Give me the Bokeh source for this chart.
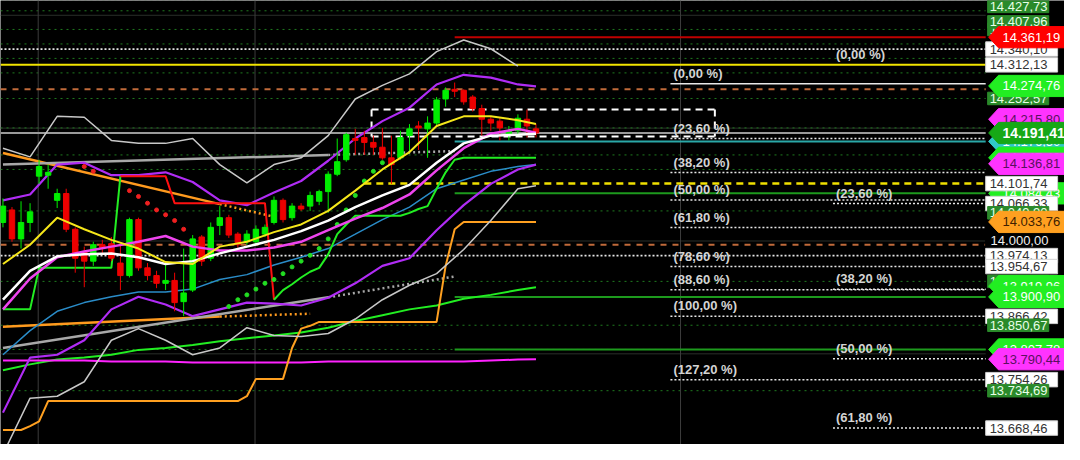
from bokeh.plotting import figure
from bokeh.models import Range1d
from bokeh.core.properties import value
from bokeh.embed import file_html
from bokeh.resources import INLINE

# ---------------- data ----------------
bars = list(range(60))
opens = [14032.8,14055.0,14003.7,14032.8,14114.9,14116.6,14072.1,14084.1,14020.8,13981.4,
         13964.3,13993.4,13995.1,13960.9,13938.7,14037.9,13952.4,13938.7,13925.0,13930.1,
         13892.5,13913.0,14007.1,13969.5,14027.6,14041.3,14012.2,13998.6,13998.6,14012.2,
         14032.8,14072.1,14041.3,14061.8,14061.8,14070.4,14087.5,14118.3,14144.0,14181.6,
         14183.3,14174.7,14166.2,14147.4,14147.4,14186.7,14203.8,14198.7,14209.0,14251.7,
         14268.8,14267.1,14255.1,14234.6,14215.8,14212.4,14190.1,14195.3,14215.8,14198.7]
highs = [14075.5,14060.1,14070.4,14067.0,14144.0,14135.4,14092.6,14092.6,14024.2,13990.0,
         13998.6,14002.0,14007.1,13993.4,14041.3,14041.3,13960.9,13947.2,13959.2,13943.8,
         13986.6,14010.5,14010.5,14032.8,14061.8,14046.4,14015.7,14019.1,14027.6,14029.3,
         14078.9,14075.5,14067.0,14067.0,14087.5,14090.9,14123.4,14181.6,14191.9,14198.7,
         14195.3,14186.7,14200.4,14186.7,14195.3,14207.2,14212.4,14220.9,14255.1,14272.2,
         14280.8,14268.8,14258.6,14241.5,14220.9,14217.5,14203.8,14224.4,14232.9,14207.2]
lows = [14024.2,13998.6,13986.6,14015.7,14101.2,14092.6,14058.4,14015.7,13943.8,13918.1,
        13955.8,13978.0,13964.3,13913.0,13935.3,13947.2,13930.1,13916.4,13913.0,13875.4,
        13866.8,13909.6,13955.8,13964.3,14010.5,14005.4,13988.3,13993.4,13993.4,14007.1,
        14029.3,14032.8,14036.2,14053.3,14053.3,14063.5,14049.9,14114.9,14140.5,14152.5,
        14152.5,14152.5,14144.0,14101.2,14144.0,14155.9,14161.1,14147.4,14203.8,14238.0,
        14255.1,14241.5,14229.5,14186.7,14195.3,14178.2,14178.2,14186.7,14183.3,14183.3]
closes = [14061.8,14003.7,14032.8,14051.6,14132.0,14121.7,14084.1,14020.8,13969.5,13964.3,
          13993.4,13986.6,13969.5,13938.7,14037.9,13952.4,13938.7,13925.0,13930.1,13890.8,
          13907.9,14003.7,13964.3,14024.2,14041.3,14010.5,13993.4,14012.2,14020.8,14024.2,
          14072.1,14037.9,14061.8,14056.7,14080.7,14087.5,14118.3,14140.5,14188.4,14178.2,
          14174.7,14166.2,14147.4,14135.4,14183.3,14198.7,14200.4,14209.0,14250.0,14267.1,
          14265.4,14246.6,14234.6,14215.8,14209.0,14200.4,14195.3,14217.5,14203.8,14191.4]

# indicator lines, read every 3 bars
idx = [0,3,6,9,12,15,18,21,24,27,30,33,36,39,42,45,48,51,54,57,59]
ma_yellow = [13959.2,13993.4,14041.3,14020.8,14002.0,13986.6,13962.6,13959.2,13990.0,13998.6,14015.7,
             14029.3,14053.3,14089.2,14126.8,14157.6,14203.8,14220.9,14220.9,14214.1,14207.2]
ma_white = [13895.9,13947.2,13972.9,13976.3,13978.0,13971.2,13959.2,13964.3,13978.0,13990.0,14002.0,
            14017.4,14036.2,14060.1,14080.7,14099.5,14138.8,14173.0,14186.7,14188.4,14190.1]
ma_magenta = [13878.8,13933.5,13971.2,13981.4,13990.0,13998.6,14008.8,13990.0,13983.2,13983.2,13988.3,
              13998.6,14019.1,14039.6,14058.4,14082.4,14125.1,14164.5,14190.1,14198.7,14191.8]
band_upper = [14072.1,14082.4,14135.4,14138.8,14116.6,14116.6,14121.7,14104.6,14072.1,14063.5,14085.8,
              14106.3,14142.2,14181.6,14212.4,14236.3,14277.4,14294.5,14289.4,14277.4,14274.0]
band_lower = [13695.8,13793.3,13798.4,13824.1,13878.8,13901.1,13887.4,13866.8,13878.8,13890.8,13889.1,
              13885.7,13899.3,13925.0,13955.8,13969.5,14019.1,14063.5,14101.2,14126.8,14135.4]
env_upper = [14164.5,14149.1,14220.9,14219.2,14178.2,14173.0,14173.0,14181.6,14135.4,14102.9,14135.4,
             14147.4,14186.7,14251.7,14275.7,14296.2,14335.5,14356.1,14340.7,14309.9]
env_lower = [13622.2,13721.4,13724.9,13750.5,13824.1,13844.6,13824.1,13798.4,13810.4,13846.3,13832.6,
             13830.9,13836.0,13861.7,13895.9,13921.6,13942.1,13984.9,14036.2,14092.6,14097.8]
ma_blue = [13798.4,13841.2,13875.4,13890.8,13901.1,13909.6,13909.6,13914.7,13931.8,13940.4,13957.5,
           13971.2,13986.6,14012.2,14037.9,14060.1,14092.6,14108.0,14123.4,14132.0,14135.4]
ma_long = [13771.0,13781.3,13789.9,13793.3,13798.4,13807.0,13810.4,13815.5,13822.4,13827.5,13832.6,
           13837.8,13846.3,13858.3,13868.5,13878.8,13885.7,13897.6,13904.5,13913.0,13918.2]
ma_flat = [13788.2,13788.2,13788.2,13788.2,13786.4,13786.4,13786.4,13784.7,13784.7,13784.7,13784.7,
           13784.7,13786.4,13786.4,13786.4,13786.4,13786.4,13786.4,13788.2,13789.9,13790.4]

# step indicators, one value per bar
orange_step = [13665.0,13665.0,13665.0,13671.8,13680.4,13716.3,13716.3,13716.3,13716.3,13716.3,
               13716.3,13716.3,13716.3,13716.3,13716.3,13716.3,13716.3,13716.3,13716.3,13716.3,
               13716.3,13716.3,13716.3,13716.3,13716.3,13716.3,13716.3,13724.9,13755.6,13755.6,
               13755.6,13755.6,13810.4,13844.6,13849.7,13856.6,13856.6,13856.6,13856.6,13856.6,
               13856.6,13856.6,13856.6,13856.6,13856.6,13856.6,13856.6,13856.6,13856.6,13955.8,
               14020.8,14033.8,14033.8,14033.8,14033.8,14033.8,14033.8,14033.8,14033.8,14033.8]
st_value = [13878.8,13878.8,13878.8,13878.8,13952.4,13952.4,13952.4,13952.4,13952.4,13952.4,
            13952.4,13952.4,13952.4,14114.9,14114.9,14114.9,14114.9,14114.9,14114.9,14067.0,
            14067.0,14067.0,14067.0,14067.0,14067.0,14067.0,14067.0,14067.0,14067.0,14067.0,
            13895.9,13913.0,13923.3,13935.3,13945.5,13952.4,13976.3,14012.2,14029.3,14044.7,
            14044.7,14044.7,14044.7,14044.7,14044.7,14049.9,14056.7,14061.8,14092.6,14121.7,
            14144.0,14147.4,14147.4,14147.4,14147.4,14147.4,14147.4,14147.4,14147.4,14147.4]
st_dir = [1,1,1,1,1,1,1,1,1,1,1,1,1,-1,-1,-1,-1,-1,-1,-1,
          -1,-1,-1,-1,-1,-1,-1,-1,-1,-1,1,1,1,1,1,1,1,1,1,1,
          1,1,1,1,1,1,1,1,1,1,1,1,1,1,1,1,1,1,1,1]

sar_red_x = [9,10,14,15,16,17,18,19,20]
sar_red_y = [14132.0,14123.4,14089.2,14078.9,14067.0,14055.0,14046.4,14036.2,14020.8]
sar_green_x = [25,26,27,28,29,30,31,32,33,34,35,36,37,38,39,40,41,42]
sar_green_y = [13883.9,13895.9,13904.5,13914.7,13925.0,13931.8,13942.1,13954.1,13964.3,13974.6,
               13986.6,14003.7,14029.3,14055.0,14080.7,14106.3,14123.4,14138.8]

# trend lines (bar, price): solid part then dotted extension
tr_orange_hi_x = [0, 24, 30]
tr_orange_hi_y = [14155.9, 14065.3, 14043.0]
tr_orange_lo_x = [0, 24, 34]
tr_orange_lo_y = [13848.0, 13866.0, 13871.1]
tr_gray_hi_x = [0, 36, 50]
tr_gray_hi_y = [14135.4, 14152.5, 14159.4]
tr_gray_lo_x = [0, 36, 50]
tr_gray_lo_y = [13810.4, 13900.2, 13937.0]

# horizontal levels
last_price = 14191.41
lvl_red = 14361.19
lvl_white_dot = [14340.10, 13974.13]
lvl_yellow = 14312.13
lvl_orange_dash = [14268.8, 13993.4]
lvl_teal = 14176.5
lvl_yellow_dash = 14101.74
lvl_green = [14084.43, 13900.90, 13807.78]
lvl_grid = [14427.73, 14407.96, 14374.90, 14349.2, 14323.6, 14297.9, 14252.57, 14200.4,
            14152.5, 14126.8, 14053.3, 13928.4, 13850.67, 13807.78, 13734.69]
lvl_round = [14400, 14200, 14000, 13800]
box_bars = [40.8, 78.8]
box_prices = [14232.9, 14185.0]
sep_bars = [3.9, 27.9, 75.0]

fib_l_hi, fib_l_lo = 14278.79, 13866.42
fib_l_levels = [0, 23.6, 38.2, 50, 61.8, 78.6, 88.6, 100, 127.2]
fib_r_hi, fib_r_lo = 14312.13, 13270.59
fib_r_levels = [0, 23.6, 38.2, 50, 61.8]

# right price tags: (price, kind), drawn in this order
tags = [
    (14400.00, "axis"), (14374.90, "green"), (14427.73, "green"), (14407.96, "green"),
    (14340.10, "white"), (14361.19, "red"), (14312.13, "white"),
    (14252.57, "green"), (14274.76, "lime"), (14215.80, "magenta"),
    (14176.50, "cyan"), (14147.40, "lime"), (14191.41, "current"),
    (14136.81, "magenta"), (14084.43, "lime"), (14066.33, "white"), (14101.74, "white"),
    (14049.90, "green"), (14033.76, "orange"), (14000.00, "axis"),
    (13974.13, "white"), (13954.67, "white"), (13928.40, "green"),
    (13919.96, "lime"), (13900.90, "lime"), (13866.42, "white"), (13850.67, "green"),
    (13807.78, "lime"), (13790.44, "magenta"), (13754.26, "white"), (13734.69, "green"),
    (13668.46, "white"),
]

# ---------------- layout helpers (reference pixel -> data) ----------------
PX_PER_BAR = 9.17
X0_PX = 2.5
PRICE_TOP = 14426.2
PRICE_PER_PX = 1.7106
# downward nudges (px) so the crowded top tags stay inside the frame
TAG_NUDGE_PX = {14427.73: 7.0, 14407.96: 11.5, 14400.00: 9.0}


def X(px):
    return (px - X0_PX) / PX_PER_BAR


def H(px):
    return px * PRICE_PER_PX


def fmt(v):
    s = f"{v:,.2f}"
    return s.replace(",", "#").replace(".", ",").replace("#", ".")


FONT = value("Liberation Sans")
Y_BOT = PRICE_TOP - H(460)

p = figure(width=1064, height=444,
           x_range=Range1d(X(0), X(1080)),
           y_range=Range1d(Y_BOT, PRICE_TOP),
           output_backend="svg", toolbar_location=None,
           x_axis_location=None, y_axis_location=None,
           background_fill_color="#000000", border_fill_color="#000000",
           min_border=0)
p.grid.visible = False
p.outline_line_color = None

XL, XR = X(0), X(1000)

# grid rows
for v in lvl_round:
    p.segment(XL, v, XR, v, line_color="#2a2f2a", line_width=1)
for v in lvl_grid:
    p.segment(XL, v, XR, v, line_color="#1f7a1f", line_width=1, line_dash="2 4")
for b in sep_bars:
    p.segment(b, Y_BOT, b, PRICE_TOP, line_color="#3c3c3c", line_width=1)

# full width levels
for v in lvl_white_dot:
    p.segment(XL, v, XR, v, line_color="#e6e6e6", line_width=1.6, line_dash="2 2")
for v in lvl_orange_dash:
    p.segment(XL, v, XR, v, line_color="#c06a3a", line_width=2, line_dash="6 6")
p.segment(XL, lvl_yellow, XR, lvl_yellow, line_color="#f2e400", line_width=2)
p.segment(XL, last_price, XR, last_price, line_color="#9a9a9a", line_width=2)

# levels starting later
p.segment(50, lvl_red, XR, lvl_red, line_color="#c00000", line_width=2)
p.segment(50, lvl_teal, XR, lvl_teal, line_color="#2aa7a7", line_width=2)
for v in lvl_green:
    p.segment(50, v, XR, v, line_color="#1d9a1d", line_width=2)
p.segment(40, lvl_yellow_dash, XR, lvl_yellow_dash, line_color="#f0e000", line_width=2.5, line_dash="7 5")

# dashed box
bx0, bx1 = box_bars
by0, by1 = box_prices
p.multi_line([[bx0, bx1], [bx0, bx1], [bx0, bx0], [bx1, bx1]],
             [[by0, by0], [by1, by1], [by0, by1], [by0, by1]],
             line_color="#ffffff", line_width=2, line_dash="7 5")

# fibonacci sets
for lv in fib_l_levels:
    v = fib_l_hi - (fib_l_hi - fib_l_lo) * lv / 100
    if lv == 0:
        p.segment(X(680), v, XR, v, line_color="#e8e8e8", line_width=1.5)
    else:
        p.segment(X(680), v, XR, v, line_color="#e8e8e8", line_width=1.5, line_dash="2 2")
    p.text([X(683)], [v + H(3)], text=[f"({lv:.2f} %)".replace(".", ",")],
           text_baseline="bottom", text_align="left", text_font=FONT,
           text_font_size="13px", text_font_style="bold", text_color="#d4d4d4")
for lv in fib_r_levels:
    v = fib_r_hi - (fib_r_hi - fib_r_lo) * lv / 100
    if lv != 0:
        p.segment(X(845), v, XR, v, line_color="#e8e8e8", line_width=1.5, line_dash="2 2")
    p.text([X(848)], [v + H(3)], text=[f"({lv:.2f} %)".replace(".", ",")],
           text_baseline="bottom", text_align="left", text_font=FONT,
           text_font_size="13px", text_font_style="bold", text_color="#d4d4d4")

# trend lines
for xs, ys, col in [(tr_orange_hi_x, tr_orange_hi_y, "#ff9a1e"), (tr_orange_lo_x, tr_orange_lo_y, "#ff9a1e"),
                    (tr_gray_hi_x, tr_gray_hi_y, "#a8a8a8"), (tr_gray_lo_x, tr_gray_lo_y, "#a8a8a8")]:
    p.line(xs[:2], ys[:2], line_color=col, line_width=2.5)
    p.line(xs[1:], ys[1:], line_color=col, line_width=2.5, line_dash="2 3")

# indicator lines
p.line(idx, ma_long, line_color="#22ee22", line_width=2)
p.line(idx, ma_flat, line_color="#ff22ff", line_width=2)
p.line(bars, orange_step, line_color="#ffa020", line_width=2)
p.line(idx, env_lower, line_color="#c8c8c8", line_width=1.5)
p.line(idx[:-1], env_upper, line_color="#c8c8c8", line_width=1.5)
p.line(idx, ma_blue, line_color="#2a8cc8", line_width=1.5)
p.line(idx, band_lower, line_color="#b02cf5", line_width=2.2)
p.line(idx, band_upper, line_color="#b02cf5", line_width=2.2)

start = 0
for i in range(1, 61):
    if i == 60 or st_dir[i] != st_dir[start]:
        end = min(i, 59)
        col = "#22ee22" if st_dir[start] == 1 else "#ff1010"
        p.line(bars[start:end + 1], st_value[start:end + 1], line_color=col, line_width=2)
        start = i

p.scatter(sar_red_x, sar_red_y, size=4, color="#ee2020")
p.scatter(sar_green_x, sar_green_y, size=4, color="#22dd22")

# candles
cols = ["#00ee00" if c >= o else "#ee0000" for o, c in zip(opens, closes)]
p.segment(bars, highs, bars, lows, line_color=cols, line_width=1)
p.vbar(x=bars, top=[max(o, c) for o, c in zip(opens, closes)],
       bottom=[min(o, c) for o, c in zip(opens, closes)], width=0.6,
       fill_color=cols, line_color=cols, line_width=1)

p.line(idx, ma_magenta, line_color="#ee44ee", line_width=2.5)
p.line(idx, ma_white, line_color="#ffffff", line_width=2.5)
p.line(idx, ma_yellow, line_color="#f5e61a", line_width=2)

# price tags
ARROW = {"red": ("#ff0000", "#ffffff", False), "lime": ("#22ee22", "#ffffff", False),
         "magenta": ("#ff33ff", "#5a1060", False), "orange": ("#ffa020", "#402000", False),
         "cyan": ("#30c8c8", "#ffffff", False), "current": ("#16a816", "#ffffff", True)}
for v, kind in tags:
    c = v - H(TAG_NUDGE_PX.get(v, 0.0))
    if kind in ARROW:
        bg, fg, bold = ARROW[kind]
        hh = H(11)
        p.patch([X(1003), X(1013), X(1082), X(1082), X(1013)],
                [c, c + hh, c + hh, c - hh, c - hh], fill_color=bg, line_color=bg)
        p.text([X(1017)], [c], text=[fmt(v)], text_baseline="middle", text_align="left",
               text_font=FONT, text_font_size="14px" if bold else "13px",
               text_font_style="bold" if bold else "normal", text_color=fg)
    elif kind == "white":
        p.quad(left=X(1000), right=X(1073), top=c + H(7.5), bottom=c - H(7.5),
               fill_color="#ffffff", line_color="#d0d0d0")
        p.text([X(1004)], [c], text=[fmt(v)], text_baseline="middle", text_align="left",
               text_font=FONT, text_font_size="13px", text_color="#333333")
    elif kind == "green":
        p.quad(left=X(1002), right=X(1064), top=c + H(6.5), bottom=c - H(6.5),
               fill_color="#2a8a2a", line_color="#2a8a2a")
        p.text([X(1004)], [c], text=[fmt(v)], text_baseline="middle", text_align="left",
               text_font=FONT, text_font_size="13px", text_color="#e8ffe8")
    else:
        p.quad(left=X(1000), right=X(1082), top=c + H(6.5), bottom=c - H(6.5),
               fill_color="#000000", line_color="#000000")
        p.text([X(1005)], [c], text=[fmt(v)], text_baseline="middle", text_align="left",
               text_font=FONT, text_font_size="13px", text_color="#f0f0f0")

open("out.html", "w").write(file_html(p, INLINE))
